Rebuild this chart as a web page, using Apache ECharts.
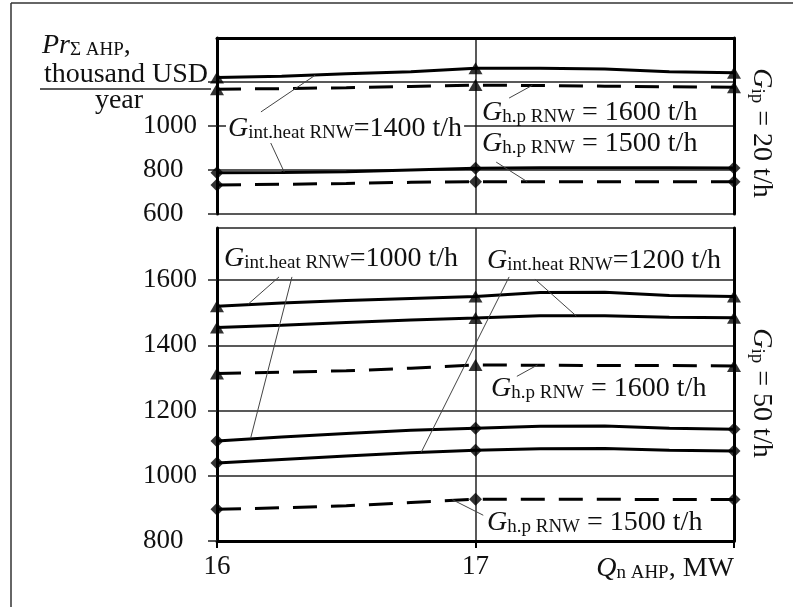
<!DOCTYPE html>
<html>
<head>
<meta charset="utf-8">
<script src="https://cdn.jsdelivr.net/npm/echarts@6/dist/echarts.min.js"></script>
<style>
html, body { margin: 0; padding: 0; background: #fff; }
#chart { width: 793px; height: 607px; }
</style>
</head>
<body>
<div id="chart"></div>
<script>
// Q_n AHP, MW
var xValues = [16, 16.25, 16.5, 16.75, 17, 17.25, 17.5, 17.75, 18];
var xTicks = [16, 17, 18];

// G_ip = 20 t/h  (upper panel)
var ip20SolidTri = [1221, 1226, 1237, 1247, 1262, 1262, 1259, 1247, 1242];
var ip20DashTri  = [1167, 1170, 1174, 1180, 1186, 1184, 1181, 1178, 1176];
var ip20SolidDia = [788, 789, 792, 800, 808, 810, 810, 810, 809];
var ip20DashDia  = [732, 735, 739, 744, 747, 747, 747, 747, 747];

// G_ip = 50 t/h  (lower panel)
var ip50SolidTriA = [1520, 1530, 1538, 1544, 1550, 1562, 1563, 1553, 1550];
var ip50SolidTriB = [1455, 1462, 1470, 1478, 1484, 1491, 1491, 1486, 1485];
var ip50DashTri   = [1314, 1318, 1322, 1330, 1340, 1339, 1338, 1338, 1337];
var ip50SolidDiaA = [1107, 1119, 1130, 1140, 1146, 1152, 1153, 1146, 1143];
var ip50SolidDiaB = [1039, 1050, 1061, 1071, 1078, 1083, 1084, 1078, 1076];
var ip50DashDia   = [897, 902, 908, 918, 928, 928, 928, 927, 927];

// leader lines [x1, y1, x2, y2] in data units
var leadersTop = [
	[16.17, 1064, 16.38, 1231],
	[16.19, 968, 16.26, 791],
	[17.13, 1127, 17.22, 1185],
	[17.08, 836, 17.20, 747]
];
var leadersBottom = [
	[16.24, 1610, 16.12, 1526],
	[16.29, 1610, 16.13, 1115],
	[17.13, 1610, 16.79, 1072],
	[17.23, 1603, 17.39, 1490],
	[17.16, 1305, 17.24, 1340],
	[17.03, 879, 16.91, 927]
];

var topYLabels = [600, 800, 1000];
var bottomYLabels = [800, 1000, 1200, 1400, 1600];

var serif = '"Liberation Serif", "DejaVu Serif", serif';
var ink = '#111';

var myChart = echarts.init(document.getElementById('chart'));

function lineSeries(vals, gi, dashed) {
	return {
		type: 'line',
		xAxisIndex: gi,
		yAxisIndex: gi * 2,
		data: xValues.map(function (x, i) { return [x, vals[i]]; }),
		symbol: 'none',
		silent: true,
		z: 3,
		lineStyle: { color: '#000', width: 3, type: dashed ? [24, 14] : 'solid' }
	};
}

function markerSeries(vals, gi, shape) {
	var pts = [];
	xTicks.forEach(function (t) {
		var i = xValues.indexOf(t);
		pts.push([t, vals[i]]);
	});
	return {
		type: 'scatter',
		xAxisIndex: gi,
		yAxisIndex: gi * 2,
		data: pts,
		symbol: shape,
		symbolSize: shape == 'triangle' ? [14, 12] : [13, 13],
		itemStyle: { color: '#000' },
		silent: true,
		z: 5
	};
}

function leaderSeries(l, gi) {
	return {
		type: 'line',
		xAxisIndex: gi,
		yAxisIndex: gi * 2,
		data: [[l[0], l[1]], [l[2], l[3]]],
		symbol: 'none',
		silent: true,
		z: 4,
		lineStyle: { color: '#444', width: 1 }
	};
}

var richBase = {
	g: { fontFamily: serif, fontSize: 28, fontStyle: 'italic', fill: ink, lineHeight: 30, verticalAlign: 'bottom' },
	s: { fontFamily: serif, fontSize: 19, fill: ink, lineHeight: 18, verticalAlign: 'bottom' },
	n: { fontFamily: serif, fontSize: 28, fill: ink, lineHeight: 30, verticalAlign: 'bottom' }
};

function note(str, x, y, bg) {
	return {
		type: 'text',
		x: x,
		y: y,
		z: 10,
		style: {
			text: str,
			rich: richBase,
			align: 'left',
			verticalAlign: 'middle',
			backgroundColor: bg ? '#fff' : null,
			padding: bg ? [0, 2, 0, 2] : 0
		}
	};
}

function sideNote(str, x, y) {
	return {
		type: 'text',
		x: x,
		y: y,
		rotation: -Math.PI / 2,
		z: 10,
		style: { text: str, rich: richBase, align: 'center', verticalAlign: 'middle' }
	};
}

var series = [];
[ip20SolidTri, ip20SolidDia].forEach(function (d) { series.push(lineSeries(d, 0, false)); });
[ip20DashTri, ip20DashDia].forEach(function (d) { series.push(lineSeries(d, 0, true)); });
[ip50SolidTriA, ip50SolidTriB, ip50SolidDiaA, ip50SolidDiaB].forEach(function (d) { series.push(lineSeries(d, 1, false)); });
[ip50DashTri, ip50DashDia].forEach(function (d) { series.push(lineSeries(d, 1, true)); });
[ip20SolidTri, ip20DashTri].forEach(function (d) { series.push(markerSeries(d, 0, 'triangle')); });
[ip20SolidDia, ip20DashDia].forEach(function (d) { series.push(markerSeries(d, 0, 'diamond')); });
[ip50SolidTriA, ip50SolidTriB, ip50DashTri].forEach(function (d) { series.push(markerSeries(d, 1, 'triangle')); });
[ip50SolidDiaA, ip50SolidDiaB, ip50DashDia].forEach(function (d) { series.push(markerSeries(d, 1, 'diamond')); });
leadersTop.forEach(function (l) { series.push(leaderSeries(l, 0)); });
leadersBottom.forEach(function (l) { series.push(leaderSeries(l, 1)); });

function yAxisLeft(gi, min, max, shown) {
	return {
		type: 'value',
		gridIndex: gi,
		position: 'left',
		min: min,
		max: max,
		interval: 200,
		axisLine: { show: true, lineStyle: { color: '#000', width: 3 } },
		axisTick: { show: true, inside: false, length: 9, lineStyle: { color: '#222', width: 1.5 } },
		axisLabel: {
			show: true,
			align: 'left',
			margin: 74,
			fontFamily: serif,
			fontSize: 27,
			color: ink,
			showMaxLabel: false,
			formatter: function (v) { return shown.indexOf(v) >= 0 ? String(v) : ''; }
		},
		splitLine: { show: true, lineStyle: { color: '#222', width: 1.5 } }
	};
}

function yAxisRight(gi, min, max) {
	return {
		type: 'value',
		gridIndex: gi,
		position: 'right',
		min: min,
		max: max,
		interval: 200,
		axisLine: { show: true, lineStyle: { color: '#000', width: 3 } },
		axisTick: { show: false },
		axisLabel: { show: false },
		splitLine: { show: false }
	};
}

myChart.setOption({
	animation: false,
	backgroundColor: '#fff',
	grid: [
		{ left: 217, right: 59, top: 38, height: 176, outerBoundsMode: 'none' },
		{ left: 217, right: 59, top: 228, height: 313, outerBoundsMode: 'none' }
	],
	xAxis: [
		{
			type: 'value',
			gridIndex: 0,
			position: 'top',
			min: 16,
			max: 18,
			interval: 1,
			axisLine: { show: true, lineStyle: { color: '#000', width: 3 } },
			axisTick: { show: false },
			axisLabel: { show: false },
			splitLine: { show: true, lineStyle: { color: '#222', width: 1.5 } }
		},
		{
			type: 'value',
			gridIndex: 1,
			position: 'bottom',
			min: 16,
			max: 18,
			interval: 1,
			axisLine: { show: true, lineStyle: { color: '#000', width: 3 } },
			axisTick: { show: true, length: 7, lineStyle: { color: '#000', width: 2 } },
			axisLabel: {
				margin: 12,
				fontFamily: serif,
				fontSize: 27,
				color: ink,
				alignMaxLabel: 'right',
				formatter: function (v) {
					if (v === 18) return '{i|Q}{s|n AHP}{n|, MW}';
					return String(v);
				},
				rich: {
					i: { fontFamily: serif, fontSize: 28, fontStyle: 'italic', color: ink, lineHeight: 30, verticalAlign: 'bottom' },
					s: { fontFamily: serif, fontSize: 19, color: ink, lineHeight: 18, verticalAlign: 'bottom' },
					n: { fontFamily: serif, fontSize: 28, color: ink, lineHeight: 30, verticalAlign: 'bottom' }
				}
			},
			splitLine: { show: true, lineStyle: { color: '#222', width: 1.5 } }
		}
	],
	yAxis: [
		yAxisLeft(0, 600, 1400, topYLabels),
		yAxisRight(0, 600, 1400),
		yAxisLeft(1, 800, 1760, bottomYLabels),
		yAxisRight(1, 800, 1760)
	],
	graphic: [
		// outer frame (top and left edges)
		{ type: 'line', shape: { x1: 11, y1: 3, x2: 800, y2: 3 }, style: { stroke: '#333', lineWidth: 1.5 } },
		{ type: 'line', shape: { x1: 11, y1: 3, x2: 11, y2: 610 }, style: { stroke: '#333', lineWidth: 1.5 } },
		// y axis title
		note('{g|Pr}{s|Σ AHP}{n|,}', 42, 45),
		{ type: 'text', x: 126, y: 75, style: { text: 'thousand USD', font: '28px ' + serif, fill: ink, align: 'center', verticalAlign: 'middle' } },
		{ type: 'line', shape: { x1: 40, y1: 89, x2: 211, y2: 89 }, style: { stroke: '#222', lineWidth: 1.5 } },
		{ type: 'text', x: 119, y: 101, style: { text: 'year', font: '28px ' + serif, fill: ink, align: 'center', verticalAlign: 'middle' } },
		// annotations, upper panel
		note('{g|G}{s|int.heat RNW}{n|=1400 t/h}', 226, 128, true),
		note('{g|G}{s|h.p RNW}{n| = 1600 t/h}', 482, 112),
		note('{g|G}{s|h.p RNW}{n| = 1500 t/h}', 482, 143),
		// annotations, lower panel
		note('{g|G}{s|int.heat RNW}{n|=1000 t/h}', 224, 258),
		note('{g|G}{s|int.heat RNW}{n|=1200 t/h}', 487, 260),
		note('{g|G}{s|h.p RNW}{n| = 1600 t/h}', 491, 388),
		note('{g|G}{s|h.p RNW}{n| = 1500 t/h}', 487, 522),
		// panel captions
		sideNote('{g|G}{s|ip}{n| = 20 t/h}', 762, 133),
		sideNote('{g|G}{s|ip}{n| = 50 t/h}', 762, 393)
	],
	series: series
});
</script>
</body>
</html>
